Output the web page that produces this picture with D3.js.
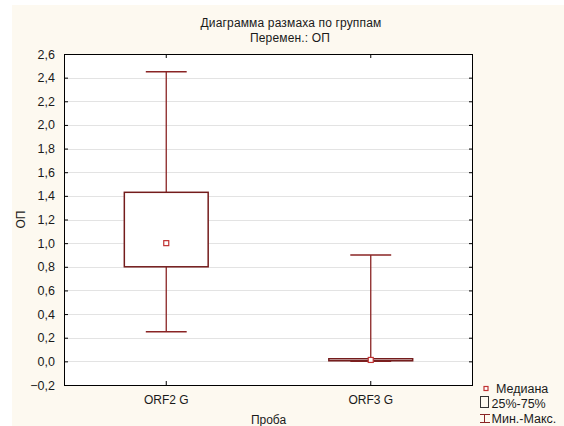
<!DOCTYPE html>
<html>
<head>
<meta charset="utf-8">
<script src="https://cdn.jsdelivr.net/npm/d3@7"></script>
<style>
  body { margin: 0; background: #ffffff; }
  text { font-family: "Liberation Sans", Arial, sans-serif; fill: #1a1a1a; }
</style>
</head>
<body>
<svg></svg>
<script>
// data
var categories = ['ORF2 G', 'ORF3 G']
var minVals = [0.25, 0.0]
var q1Vals = [0.80, 0.005]
var medianVals = [1.00, 0.012]
var q3Vals = [1.43, 0.022]
var maxVals = [2.45, 0.90]
var yTicks = [-0.2, 0, 0.2, 0.4, 0.6, 0.8, 1.0, 1.2, 1.4, 1.6, 1.8, 2.0, 2.2, 2.4, 2.6]
var legendLabels = ['Медиана', '25%-75%', 'Мин.-Макс.']

var svgWidth = 564, svgHeight = 426
var plot = { left: 64, right: 473, top: 54, bottom: 385 }
var boxColor = '#741c1c', whiskerColor = '#8a2424', medianColor = '#c03333'

var svg = d3.select('svg')
    .attr('width', svgWidth)
    .attr('height', svgHeight)

// cream page background
svg.append('rect')
    .attr('x', 12).attr('y', 5)
    .attr('width', svgWidth - 12).attr('height', svgHeight - 5)
    .style('fill', '#fdf9f0')

// scales
var x = d3.scaleBand().domain(categories).range([plot.left, plot.right])
var y = d3.scaleLinear().domain([-0.2, 2.6]).range([plot.bottom, plot.top])
var bw = x.bandwidth()
var cx = function(c) { return x(c) + bw / 2 }
var fmt = function(d) { return d3.format('.1f')(d).replace('.', ',') }

svg.append('rect')
    .attr('x', plot.left).attr('y', plot.top)
    .attr('width', plot.right - plot.left).attr('height', plot.bottom - plot.top)
    .style('fill', '#ffffff')

// grid lines
svg.append('g').selectAll('line')
    .data(yTicks.slice(1, -1))
    .enter().append('line')
    .attr('x1', plot.left).attr('x2', plot.right)
    .attr('y1', function(d) { return Math.round(y(d)) + 0.5 })
    .attr('y2', function(d) { return Math.round(y(d)) + 0.5 })
    .style('stroke', '#e3e3e3')

// axes, ticks pointing inward
var leftAxis = svg.append('g')
    .attr('transform', 'translate(' + plot.left + ',0)')
    .call(d3.axisLeft(y).tickValues(yTicks).tickSizeInner(-4).tickSizeOuter(0).tickPadding(9).tickFormat(fmt))
var rightAxis = svg.append('g')
    .attr('transform', 'translate(' + plot.right + ',0)')
    .call(d3.axisRight(y).tickValues(yTicks).tickSizeInner(-4).tickSizeOuter(0).tickFormat(''))
var bottomAxis = svg.append('g')
    .attr('transform', 'translate(0,' + plot.bottom + ')')
    .call(d3.axisBottom(x).tickSizeInner(-4).tickSizeOuter(0).tickPadding(10))
var topAxis = svg.append('g')
    .attr('transform', 'translate(0,' + plot.top + ')')
    .call(d3.axisTop(x).tickSizeInner(-4).tickSizeOuter(0).tickFormat(''))

svg.selectAll('.domain').remove()
svg.selectAll('.tick line').style('stroke', '#000')
svg.selectAll('.tick text')
    .style('font-size', '12px')
    .style('font-family', '"Liberation Sans", Arial, sans-serif')
    .style('fill', '#1a1a1a')
leftAxis.selectAll('.tick text').style('font-size', '12.5px')

// whiskers
var whisk = svg.append('g').selectAll('g')
    .data(categories)
    .enter().append('g')
whisk.append('line')
    .attr('x1', function(d) { return cx(d) }).attr('x2', function(d) { return cx(d) })
    .attr('y1', function(d, i) { return y(maxVals[i]) })
    .attr('y2', function(d, i) { return y(minVals[i]) })
    .style('stroke', whiskerColor).style('stroke-width', 1.3)
whisk.append('line')
    .attr('x1', function(d) { return cx(d) - bw * 0.1 }).attr('x2', function(d) { return cx(d) + bw * 0.1 })
    .attr('y1', function(d, i) { return y(maxVals[i]) })
    .attr('y2', function(d, i) { return y(maxVals[i]) })
    .style('stroke', whiskerColor).style('stroke-width', 1.5)
whisk.append('line')
    .attr('x1', function(d) { return cx(d) - bw * 0.1 }).attr('x2', function(d) { return cx(d) + bw * 0.1 })
    .attr('y1', function(d, i) { return y(minVals[i]) })
    .attr('y2', function(d, i) { return y(minVals[i]) })
    .style('stroke', whiskerColor).style('stroke-width', 1.5)

// boxes
svg.append('g').selectAll('rect')
    .data(categories)
    .enter().append('rect')
    .attr('x', function(d) { return cx(d) - bw * 0.205 })
    .attr('width', bw * 0.41)
    .attr('y', function(d, i) { return y(q3Vals[i]) })
    .attr('height', function(d, i) { return Math.max(1, y(q1Vals[i]) - y(q3Vals[i])) })
    .style('fill', '#ffffff')
    .style('stroke', boxColor).style('stroke-width', 1.5)

// medians
svg.append('g').selectAll('rect')
    .data(categories)
    .enter().append('rect')
    .attr('x', function(d) { return cx(d) - 2.5 })
    .attr('y', function(d, i) { return y(medianVals[i]) - 2.5 })
    .attr('width', 5).attr('height', 5)
    .style('fill', '#ffffff')
    .style('stroke', medianColor).style('stroke-width', 1.2)

// plot frame
svg.append('rect')
    .attr('x', plot.left + 0.5).attr('y', plot.top + 0.5)
    .attr('width', plot.right - plot.left - 1).attr('height', plot.bottom - plot.top)
    .style('fill', 'none').style('stroke', '#000')

// titles
svg.append('text').text('Диаграмма размаха по группам')
    .attr('x', 291).attr('y', 27).attr('text-anchor', 'middle')
    .style('font-size', '12px').style('letter-spacing', '0.15px')
svg.append('text').text('Перемен.: ОП')
    .attr('x', 290).attr('y', 42).attr('text-anchor', 'middle')
    .style('font-size', '12px').style('letter-spacing', '0.15px')
svg.append('text').text('Проба')
    .attr('x', (plot.left + plot.right) / 2).attr('y', 424).attr('text-anchor', 'middle')
    .style('font-size', '12px')
svg.append('text').text('ОП')
    .attr('transform', 'translate(25,' + (plot.top + plot.bottom) / 2 + ') rotate(-90)')
    .attr('text-anchor', 'middle')
    .style('font-size', '12px')

// legend
var lg = svg.append('g')
lg.append('rect').attr('x', 484).attr('y', 386.5).attr('width', 4).attr('height', 4)
    .style('fill', '#fff').style('stroke', medianColor).style('stroke-width', 1.2)
lg.append('rect').attr('x', 480.5).attr('y', 396.5).attr('width', 8).attr('height', 11)
    .style('fill', 'none').style('stroke', '#333').style('stroke-width', 1)
lg.append('line').attr('x1', 484.5).attr('x2', 484.5).attr('y1', 414).attr('y2', 423)
    .style('stroke', whiskerColor)
lg.append('line').attr('x1', 480).attr('x2', 490).attr('y1', 414.5).attr('y2', 414.5)
    .style('stroke', whiskerColor)
lg.append('line').attr('x1', 480).attr('x2', 490).attr('y1', 422.5).attr('y2', 422.5)
    .style('stroke', whiskerColor)
lg.selectAll('text')
    .data(legendLabels)
    .enter().append('text')
    .text(function(d) { return d })
    .attr('x', function(d, i) { return i === 0 ? 496 : 491.5 })
    .attr('y', function(d, i) { return 393 + i * 15 })
    .style('font-size', '12.5px')
</script>
</body>
</html>
